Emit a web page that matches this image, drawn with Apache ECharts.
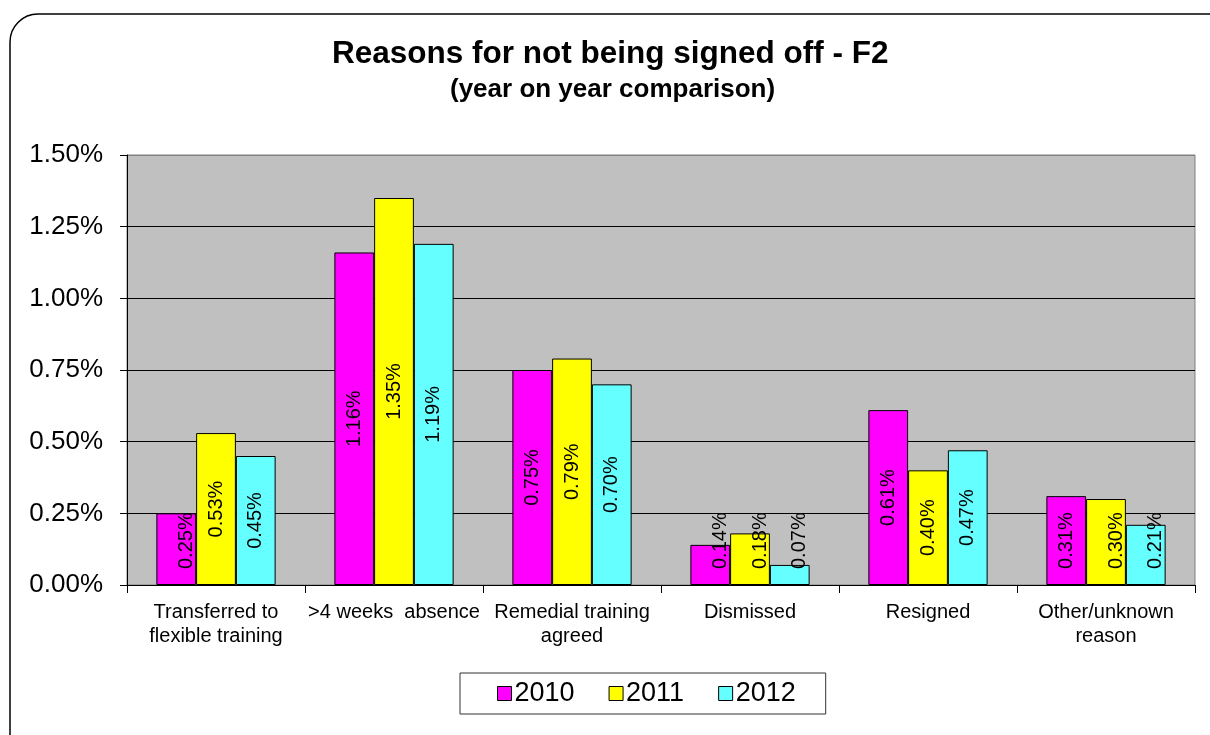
<!DOCTYPE html>
<html>
<head>
<meta charset="utf-8">
<script src="https://cdn.jsdelivr.net/npm/echarts@6/dist/echarts.min.js"></script>
<style>
html,body{margin:0;padding:0;background:#fff;}
#chart{width:1210px;height:735px;}
</style>
</head>
<body>
<div id="chart"></div>
<script>
var categories = ['Transferred to\nflexible training', '>4 weeks  absence', 'Remedial training\nagreed', 'Dismissed', 'Resigned', 'Other/unknown\nreason'];
var seriesNames = ['2010', '2011', '2012'];
var values2010 = [0.25, 1.16, 0.75, 0.14, 0.61, 0.31];
var values2011 = [0.53, 1.35, 0.79, 0.18, 0.40, 0.30];
var values2012 = [0.45, 1.19, 0.70, 0.07, 0.47, 0.21];
var yTicks = [0, 0.25, 0.5, 0.75, 1.0, 1.25, 1.5];

var colors = ['#FF00FF', '#FFFF00', '#66FFFF'];
var FONT = 'Liberation Sans, Arial, sans-serif';

var chart = echarts.init(document.getElementById('chart'));

function makeSeries(name, data, color) {
  return {
    name: name,
    type: 'bar',
    data: data,
    barGap: '0%',
    barCategoryGap: '33%',
    itemStyle: { color: color, borderColor: '#000', borderWidth: 1 },
    label: {
      show: true,
      position: 'inside',
      rotate: 90,
      fontFamily: FONT,
      fontSize: 20,
      color: '#000',
      formatter: function (p) { return p.value.toFixed(2) + '%'; }
    },
    labelLayout: function (p) {
      var lr = p.labelRect, r = p.rect;
      var limit = r.y + r.height - 16;
      if (lr.y + lr.height > limit) {
        return { y: limit };
      }
      return {};
    }
  };
}

var option = {
  animation: false,
  backgroundColor: '#fff',
  title: [
    {
      text: 'Reasons for not being signed off - F2',
      left: 332, top: 38, padding: 0,
      textStyle: { fontFamily: FONT, fontSize: 31.5, fontWeight: 'bold', color: '#000' }
    },
    {
      text: '(year on year comparison)',
      left: 450, top: 77, padding: 0,
      textStyle: { fontFamily: FONT, fontSize: 26, fontWeight: 'bold', color: '#000' }
    }
  ],
  graphic: [{
    type: 'rect',
    shape: { x: 10, y: 14, width: 1230, height: 760, r: 28 },
    style: { fill: 'none', stroke: '#000', lineWidth: 1.5 },
    silent: true,
    z: -1
  }],
  legend: {
    data: seriesNames,
    left: 460, top: 673,
    padding: [7, 30, 7, 37],
    itemGap: 34,
    itemWidth: 14, itemHeight: 14,
    icon: 'rect',
    borderColor: '#333', borderWidth: 1,
    itemStyle: { borderColor: '#000', borderWidth: 1 },
    textStyle: { fontFamily: FONT, fontSize: 27, color: '#000', padding: [0, 0, 0, -2] }
  },
  grid: {
    left: 127, right: 15, top: 155, bottom: 150,
    show: true,
    backgroundColor: '#C0C0C0',
    borderColor: '#808080',
    borderWidth: 1,
    containLabel: false
  },
  xAxis: {
    type: 'category',
    data: categories,
    axisLine: { show: true, lineStyle: { color: '#000', width: 1 } },
    axisTick: { show: true, length: 8, lineStyle: { color: '#000' } },
    axisLabel: {
      interval: 0,
      margin: 15,
      fontFamily: FONT, fontSize: 20, color: '#000', lineHeight: 24
    },
    splitLine: { show: false }
  },
  yAxis: {
    type: 'value',
    min: yTicks[0],
    max: yTicks[yTicks.length - 1],
    interval: 0.25,
    axisLine: { show: true, lineStyle: { color: '#000', width: 1 } },
    axisTick: { show: true, length: 7, lineStyle: { color: '#000' } },
    axisLabel: {
      margin: 24,
      fontFamily: FONT, fontSize: 26, color: '#000',
      formatter: function (v) { return v.toFixed(2) + '%'; }
    },
    splitLine: {
      show: true,
      lineStyle: { color: ['#000', '#000', '#000', '#000', '#000', '#000', '#808080'], width: 1 }
    }
  },
  series: [
    makeSeries(seriesNames[0], values2010, colors[0]),
    makeSeries(seriesNames[1], values2011, colors[1]),
    makeSeries(seriesNames[2], values2012, colors[2])
  ]
};

chart.setOption(option);
</script>
</body>
</html>
